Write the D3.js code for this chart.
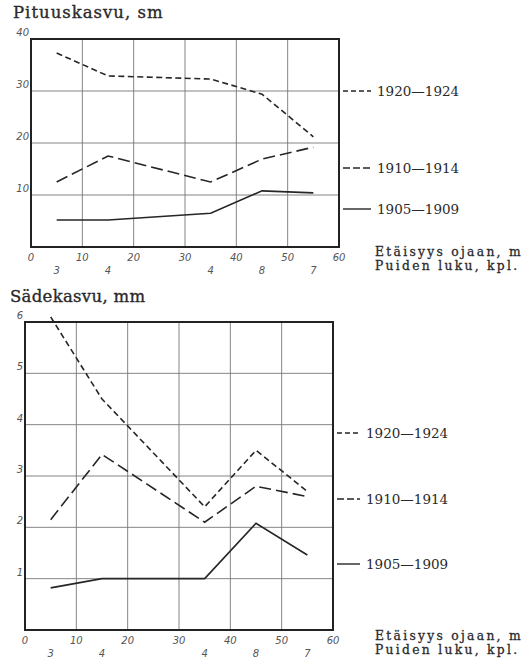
<!DOCTYPE html>
<html>
<head>
<meta charset="utf-8">
<script src="https://cdn.jsdelivr.net/npm/d3@7"></script>
<style>
  body { margin: 0; background: #fff; }
  svg { display: block; }
  .tick-label { font-family: "DejaVu Sans", sans-serif; font-style: italic; font-size: 10px; fill: #555; }
  .title { font-family: "DejaVu Serif", serif; font-size: 16.5px; fill: #2a2a2a; stroke: #2a2a2a; stroke-width: 0.35px; }
  .legend-label { font-family: "DejaVu Serif", serif; font-size: 13.5px; fill: #2a2a2a; }
  .axis-note { font-family: "DejaVu Serif", serif; font-size: 12.3px; letter-spacing: 2.3px; fill: #2a2a2a; stroke: #2a2a2a; stroke-width: 0.3px; }
</style>
</head>
<body>
<div id="chart"></div>
<script>
// Etäisyys ojaan (m) ja puiden luku
const distances = [5, 15, 35, 45, 55];
const treeCounts = ["3", "4", "4", "8", "7"];
const periods = ["1920—1924", "1910—1914", "1905—1909"];
const xTicks = [0, 10, 20, 30, 40, 50, 60];

// Pituuskasvu, sm
const heightTicks = [10, 20, 30, 40];
const height1920 = [37.3, 32.9, 32.3, 29.4, 21.2];
const height1910 = [12.5, 17.5, 12.5, 16.9, 19.2];
const height1905 = [5.2, 5.2, 6.5, 10.8, 10.4];

// Sädekasvu, mm
const radialTicks = [1, 2, 3, 4, 5, 6];
const radial1920 = [6.1, 4.5, 2.4, 3.5, 2.7];
const radial1910 = [2.15, 3.42, 2.1, 2.8, 2.6];
const radial1905 = [0.82, 1.0, 1.0, 2.08, 1.46];

const dashes = ["6,3.5", "12,5", null];

const svg = d3.select("#chart").append("svg")
  .attr("width", 528)
  .attr("height", 665);

function drawChart(opts) {
  const x = d3.scaleLinear().domain([0, 60]).range([opts.left, opts.right]);
  const y = d3.scaleLinear().domain([0, opts.yMax]).range([opts.bottom, opts.top]);
  const g = svg.append("g");

  // title
  g.append("text")
    .attr("class", "title")
    .attr("x", opts.titleX)
    .attr("y", opts.titleY)
    .style("letter-spacing", opts.titleSpacing + "px")
    .text(opts.title);

  // grid
  g.selectAll(".vgrid")
    .data(xTicks.slice(1, -1))
    .enter().append("line")
    .attr("x1", d => x(d)).attr("x2", d => x(d))
    .attr("y1", y(opts.yMax)).attr("y2", y(0))
    .attr("stroke", "#777").attr("stroke-width", 0.9);

  g.selectAll(".hgrid")
    .data(opts.yTicks.filter(d => d < opts.yMax))
    .enter().append("line")
    .attr("x1", x(0)).attr("x2", x(60))
    .attr("y1", d => y(d)).attr("y2", d => y(d))
    .attr("stroke", "#777").attr("stroke-width", 0.9);

  // frame
  g.append("rect")
    .attr("x", x(0)).attr("y", y(opts.yMax))
    .attr("width", x(60) - x(0))
    .attr("height", y(0) - y(opts.yMax))
    .attr("fill", "none")
    .attr("stroke", "#222")
    .attr("stroke-width", 2);

  // y tick labels
  g.selectAll(".ylab")
    .data(opts.yTicks)
    .enter().append("text")
    .attr("class", "tick-label")
    .attr("x", x(0) - 2)
    .attr("y", d => y(d) - 3)
    .attr("text-anchor", "end")
    .text(d => d);

  // x tick labels
  g.selectAll(".xlab")
    .data(xTicks)
    .enter().append("text")
    .attr("class", "tick-label")
    .attr("x", d => x(d))
    .attr("y", y(0) + 14)
    .attr("text-anchor", "middle")
    .text(d => d);

  // tree counts
  g.selectAll(".count")
    .data(distances)
    .enter().append("text")
    .attr("class", "tick-label")
    .attr("x", d => x(d))
    .attr("y", y(0) + 27)
    .attr("text-anchor", "middle")
    .text((d, i) => treeCounts[i]);

  // series
  const line = d3.line()
    .x((d, i) => x(distances[i]))
    .y(d => y(d));

  opts.series.forEach((s, i) => {
    g.append("path")
      .datum(s)
      .attr("d", line)
      .attr("fill", "none")
      .attr("stroke", "#262626")
      .attr("stroke-width", 1.6)
      .attr("stroke-dasharray", dashes[i]);

    g.append("line")
      .attr("x1", opts.legendX1).attr("x2", opts.legendX2)
      .attr("y1", opts.legendY[i]).attr("y2", opts.legendY[i])
      .attr("stroke", "#262626")
      .attr("stroke-width", 1.4)
      .attr("stroke-dasharray", i === 0 ? "5,3" : i === 1 ? "7,3" : null);

    g.append("text")
      .attr("class", "legend-label")
      .attr("x", opts.legendX2 + 6)
      .attr("y", opts.legendY[i] + 4.5)
      .text(periods[i]);
  });

  // axis notes
  g.append("text")
    .attr("class", "axis-note")
    .attr("x", opts.noteX)
    .attr("y", opts.noteY)
    .text("Etäisyys ojaan, m");
  g.append("text")
    .attr("class", "axis-note")
    .attr("x", opts.noteX)
    .attr("y", opts.noteY + 13.5)
    .text("Puiden luku, kpl.");
}

drawChart({
  title: "Pituuskasvu, sm",
  titleX: 13, titleY: 18, titleSpacing: 1,
  left: 31, right: 339, top: 39, bottom: 247,
  yMax: 40, yTicks: heightTicks,
  series: [height1920, height1910, height1905],
  legendX1: 343, legendX2: 371,
  legendY: [91, 168, 209],
  noteX: 375, noteY: 256
});

drawChart({
  title: "Sädekasvu, mm",
  titleX: 10, titleY: 302, titleSpacing: 0.3,
  left: 25, right: 333, top: 322, bottom: 630,
  yMax: 6, yTicks: radialTicks,
  series: [radial1920, radial1910, radial1905],
  legendX1: 337, legendX2: 360,
  legendY: [433, 499, 564],
  noteX: 375, noteY: 640
});
</script>
</body>
</html>
